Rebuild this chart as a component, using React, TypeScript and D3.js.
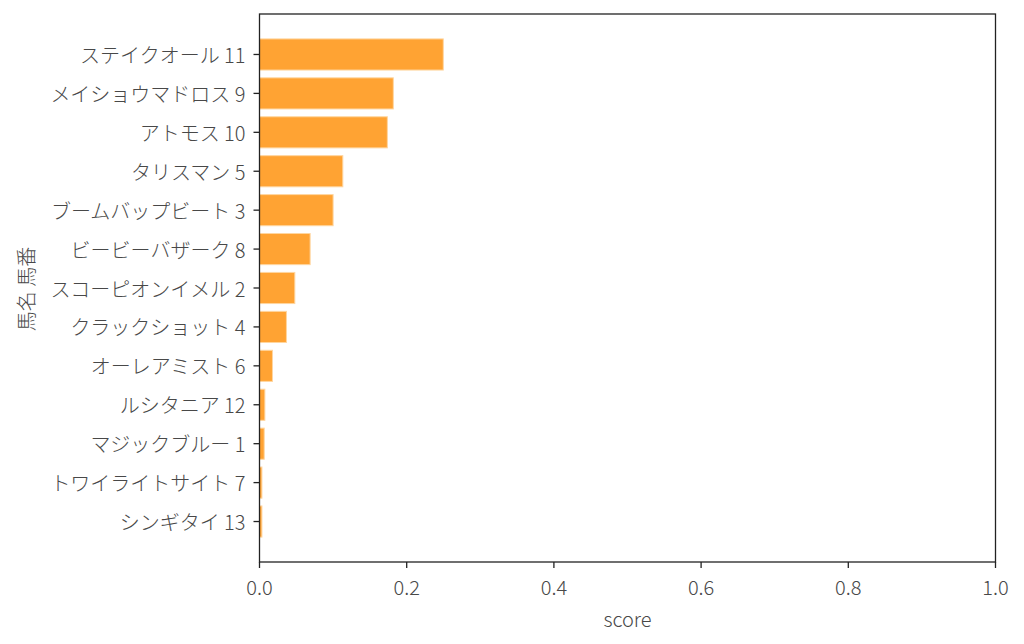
import React from "react";
import * as d3 from "d3";

const horses = [
  "ステイクオール 11",
  "メイショウマドロス 9",
  "アトモス 10",
  "タリスマン 5",
  "ブームバップビート 3",
  "ビービーバザーク 8",
  "スコーピオンイメル 2",
  "クラックショット 4",
  "オーレアミスト 6",
  "ルシタニア 12",
  "マジックブルー 1",
  "トワイライトサイト 7",
  "シンギタイ 13",
];
const scores = [0.2497, 0.1818, 0.1737, 0.1132, 0.1, 0.0688, 0.048, 0.0366, 0.0176, 0.0073, 0.0064, 0.0033, 0.0033];
const xTicks = [0, 0.2, 0.4, 0.6, 0.8, 1.0];
const xLabel = "score";
const yLabel = "馬名 馬番";

const W = 1024;
const H = 644;
const left = 259.5;
const right = 995.5;
const top = 14;
const bottom = 562;
const font = "'Noto Sans CJK JP Light', 'Noto Sans CJK JP DemiLight', 'Noto Sans CJK JP', 'Noto Sans', sans-serif";
const textColor = "#484848";
const fs = 20;

export default function App() {
  const x = d3.scaleLinear().domain([0, 1]).range([left, right]);
  const n = horses.length;
  // matplotlib-style categorical axis: index i at position i, bar height 0.8, 5% margins
  const lo = -0.4 - 0.64;
  const hi = n - 1 + 0.4 + 0.64;
  const y = d3.scaleLinear().domain([lo, hi]).range([top, bottom]);
  const bh = y(0.4) - y(-0.4);

  return (
    <svg width={W} height={H} style={{ position: "absolute", left: 0, top: 0 }} fontFamily={font}>
      <rect x={0} y={0} width={W} height={H} fill="#fff" />
      {horses.map((h, i) => (
        <rect
          key={h}
          x={x(0)}
          y={y(i) - bh / 2}
          width={x(scores[i]) - x(0)}
          height={bh}
          fill="#FFA333"
          stroke="#FFD6A0"
          strokeWidth={1}
        />
      ))}
      <rect x={left} y={top} width={right - left} height={bottom - top} fill="none" stroke="#222" strokeWidth={1.3} />
      {horses.map((h, i) => (
        <g key={"t" + h}>
          <line x1={left - 6} x2={left} y1={y(i)} y2={y(i)} stroke="#222" strokeWidth={1.3} />
          <text
            x={left - 14}
            y={y(i)}
            textAnchor="end"
            dominantBaseline="central"
            fontSize={fs}
            fontWeight={300}
            fill={textColor}
          >
            {h}
          </text>
        </g>
      ))}
      {xTicks.map((t) => (
        <g key={"x" + t}>
          <line x1={x(t)} x2={x(t)} y1={bottom} y2={bottom + 6} stroke="#222" strokeWidth={1.3} />
          <text
            x={x(t)}
            y={bottom + 24}
            textAnchor="middle"
            dominantBaseline="central"
            fontSize={fs}
            fontWeight={300}
            fill={textColor}
          >
            {t.toFixed(1)}
          </text>
        </g>
      ))}
      <text
        x={(left + right) / 2}
        y={bottom + 56}
        textAnchor="middle"
        dominantBaseline="central"
        fontSize={fs}
        fontWeight={300}
        fill={textColor}
      >
        {xLabel}
      </text>
      <text
        transform={`translate(25, ${(top + bottom) / 2 + 1}) rotate(-90)`}
        textAnchor="middle"
        dominantBaseline="central"
        fontSize={fs}
        fontWeight={300}
        fill={textColor}
      >
        {yLabel}
      </text>
    </svg>
  );
}
